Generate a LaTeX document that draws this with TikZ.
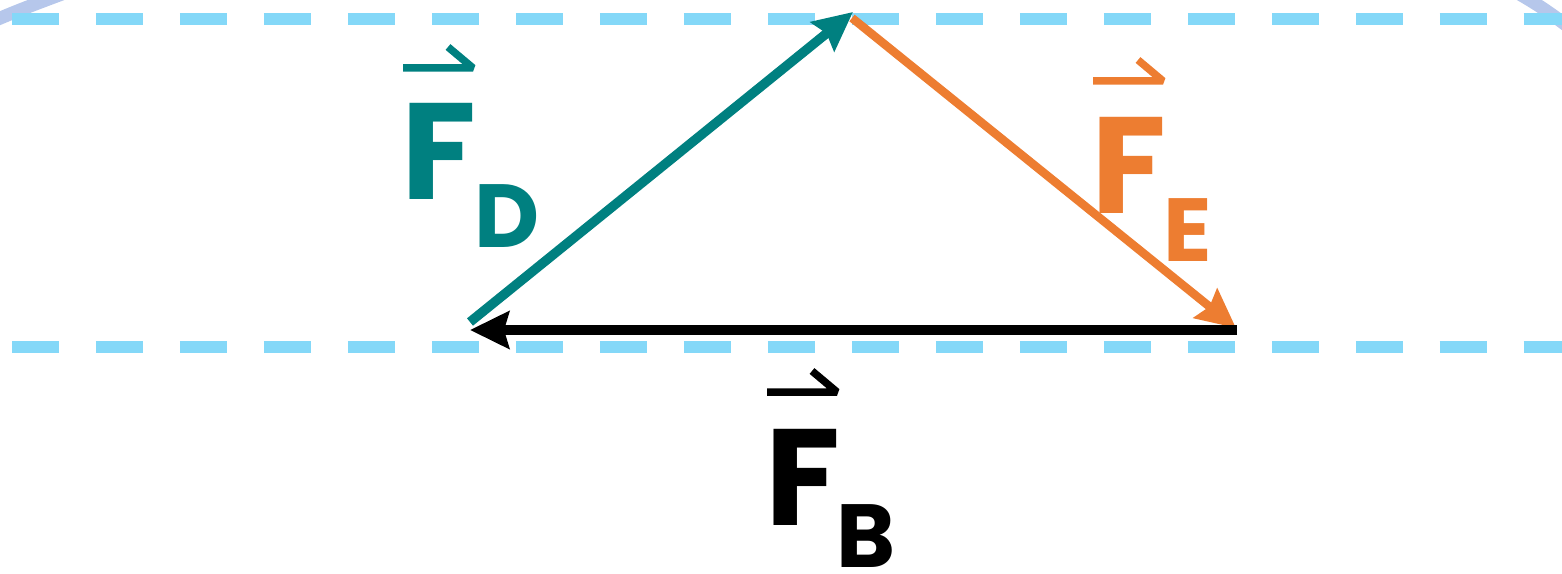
\documentclass[tikz,border=0pt]{standalone}
\usepackage{fontspec}
\newfontfamily\bub{Poppins}
\usetikzlibrary{arrows.meta}
\definecolor{dashblue}{HTML}{84D8F8}
\definecolor{arcblue}{HTML}{8FA9E0}
\definecolor{tealc}{HTML}{008080}
\definecolor{orangec}{HTML}{ED7D31}
\begin{document}
\begin{tikzpicture}[x=0.02cm,y=-0.02cm,
  dashline/.style={draw=dashblue,line width=0.24cm,dash pattern=on 0.94cm off 0.74cm},
  arcline/.style={draw=arcblue,line width=0.26cm,opacity=0.65},
  vec/.style={line width=0.19cm,-{Stealth[length=0.78cm,width=0.74cm,inset=0.1cm]}},
  big/.style={inner sep=0pt,anchor=base west,font=\bub\bfseries\fontsize{78}{78}\selectfont},
  small/.style={inner sep=0pt,anchor=base west,font=\bub\bfseries\fontsize{51}{51}\selectfont},
  harp/.style={line width=0.15cm,line cap=butt,line join=bevel}]
\useasboundingbox (0,0) rectangle (1562,574);
% corner arcs
\begin{scope}
\clip (0,0) rectangle (1562,574);
\draw[arcline] (-30,32) .. controls (0,17) and (30,6) .. (62,-6);
\draw[arcline] (1516,-8) .. controls (1535,3) and (1550,12) .. (1580,36);
\end{scope}
% dashed guide lines
\draw[dashline] (12,19) -- (1562,19);
\draw[dashline] (12,347) -- (1562,347);
% vertices
\coordinate (tstart) at (470,322);
\coordinate (top) at (853,12);
\coordinate (ostart) at (852,18);
\coordinate (otip) at (1236,328);
\coordinate (bstart) at (1237,330);
\coordinate (bend) at (470,330);
% arrows
\draw[vec,draw=orangec,fill=orangec,line width=0.17cm] (ostart) -- (otip);
\draw[vec,draw=tealc,fill=tealc] (tstart) -- (top);
\draw[vec,draw=black,fill=black,line width=0.22cm] (bstart) -- (bend);
% labels
\node[big,text=tealc] (fd) at (401,200) {F};
\node[small,text=tealc] (fdsub) at (474,248) {D};
\draw[harp,draw=tealc] (403,68) -- (473,68) -- (448,47);
\node[big,text=orangec] (fe) at (1091,214) {F};
\node[small,text=orangec] (fesub) at (1163,262) {E};
\draw[harp,draw=orangec] (1093,81) -- (1163,81) -- (1138,60);
\node[big,text=black] (fb) at (765,525) {F};
\node[small,text=black] (fbsub) at (836,567) {B};
\draw[harp,draw=black] (767,392) -- (837,392) -- (812,371);
\end{tikzpicture}
\end{document}
